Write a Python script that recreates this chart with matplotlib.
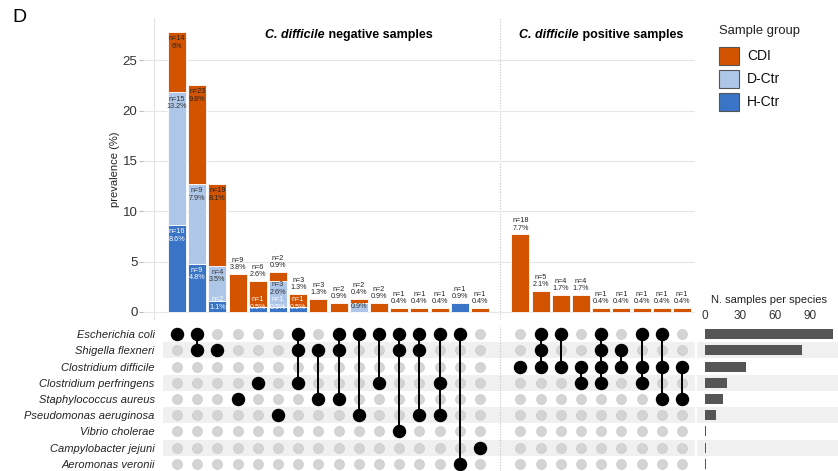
import matplotlib
matplotlib.use("Agg")
import matplotlib.pyplot as plt
from matplotlib.patches import Rectangle

plt.rcParams["font.family"] = ["Liberation Sans", "DejaVu Sans"]

# species in the intersection matrix, top to bottom
species = ["Escherichia coli", "Shigella flexneri", "Clostridium difficile",
           "Clostridium perfringens", "Staphylococcus aureus",
           "Pseudomonas aeruginosa", "Vibrio cholerae", "Campylobacter jejuni",
           "Aeromonas veronii"]
samples_per_species = [110, 83, 35, 19, 15, 9, 1, 1, 1]

# species combinations (indices into species)
neg_sets = [[0], [0, 1], [1], [4], [3], [5], [0, 1, 3], [1, 4], [0, 1, 4],
            [0, 5], [0, 3], [0, 1, 6], [0, 1, 5], [0, 3, 5], [0, 8], [7]]
pos_sets = [[2], [0, 1, 2], [0, 2], [2, 3], [0, 1, 2, 3], [1, 2], [0, 2, 3],
            [0, 2, 4], [2, 4]]

# prevalence (%) and counts per sample group, C. difficile negative samples
neg_hctr_pct = [8.6, 4.8, 1.1, 0, 0.5, 0.5, 0.5, 0, 0, 0, 0, 0, 0, 0, 0.9, 0]
neg_hctr_n = [16, 9, 2, 0, 1, 1, 1, 0, 0, 0, 0, 0, 0, 0, 1, 0]
neg_dctr_pct = [13.2, 7.9, 3.5, 0, 0, 2.6, 0, 0, 0, 0.9, 0, 0, 0, 0, 0, 0]
neg_dctr_n = [15, 9, 4, 0, 0, 3, 0, 0, 0, 1, 0, 0, 0, 0, 0, 0]
neg_cdi_pct = [6, 9.8, 8.1, 3.8, 2.6, 0.9, 1.3, 1.3, 0.9, 0.4, 0.9, 0.4, 0.4, 0.4, 0, 0.4]
neg_cdi_n = [14, 23, 19, 9, 6, 2, 3, 3, 2, 2, 2, 1, 1, 1, 0, 1]

# C. difficile positive samples (CDI only)
pos_cdi_pct = [7.7, 2.1, 1.7, 1.7, 0.4, 0.4, 0.4, 0.4, 0.4]
pos_cdi_n = [18, 5, 4, 4, 1, 1, 1, 1, 1]

groups = ["CDI", "D-Ctr", "H-Ctr"]
colors = {"CDI": "#d35400", "D-Ctr": "#aec6e8", "H-Ctr": "#3a74c6"}
text_colors = {"CDI": "#222222", "D-Ctr": "#333333", "H-Ctr": "white"}

n_neg = len(neg_sets)
gap = 1
pos_x = [n_neg + gap + i for i in range(len(pos_sets))]
neg_x = list(range(n_neg))
all_x = neg_x + pos_x
all_sets = neg_sets + pos_sets
divider = n_neg

# stacks bottom -> top: H-Ctr, D-Ctr, CDI
stacks = []
for i in range(n_neg):
    stacks.append([("H-Ctr", neg_hctr_pct[i], neg_hctr_n[i]),
                   ("D-Ctr", neg_dctr_pct[i], neg_dctr_n[i]),
                   ("CDI", neg_cdi_pct[i], neg_cdi_n[i])])
for i in range(len(pos_sets)):
    stacks.append([("H-Ctr", 0, 0), ("D-Ctr", 0, 0),
                   ("CDI", pos_cdi_pct[i], pos_cdi_n[i])])

W, H = 838, 471
fig = plt.figure(figsize=(W / 100, H / 100), dpi=100)


def px_box(x0, y0, x1, y1):
    return [x0 / W, 1 - y1 / H, (x1 - x0) / W, (y1 - y0) / H]


x_px0, x_step = 177, 20.2
xr = (695 - x_px0) / x_step

# ---- stacked prevalence bars ----
ax = fig.add_axes(px_box(143, 18, 695, 320))
ax.set_xlim((143 - x_px0) / x_step, xr)
ax.set_ylim(-0.8, 29.2)
for s in ax.spines.values():
    s.set_visible(False)
ax.set_yticks([0, 5, 10, 15, 20, 25])
ax.tick_params(axis="y", length=3, color="#bbbbbb", labelsize=9.5,
               labelcolor="#333333", pad=1)
ax.set_xticks([])
ax.grid(axis="y", color="#e6e6e6", lw=0.8)
ax.set_axisbelow(True)
ax.axvline((154 - x_px0) / x_step, color="#e3e3e3", lw=0.8, zorder=0)
ax.axvline(divider, color="#c4c4c4", lw=0.8, ls=(0, (1, 1.5)), zorder=0)
ax.set_ylabel("prevalence (%)", fontsize=8, color="#222222", labelpad=2)

bw = 0.9
fs = 5.2
two_lines = 1.55  # height of a two-line label in % units
for x, stack in zip(all_x, stacks):
    segs = [s for s in stack if s[1] > 0]
    total = sum(s[1] for s in segs)
    bottom = 0
    for k, (g, v, n) in enumerate(segs):
        ax.bar(x, v, bottom=bottom, width=bw, color=colors[g],
               edgecolor="white", linewidth=0.6)
        top = bottom + v
        is_top = k == len(segs) - 1
        if is_top and (len(segs) == 1 or v < 5):
            ax.text(x, top + 0.25, f"n={n}\n{v:g}%", ha="center",
                    va="bottom", fontsize=fs, color="#222222",
                    linespacing=1.1)
        else:
            pad = 0.3 if v >= 3 else 0.05
            y = max(top - pad, two_lines)
            if y > total:
                # no room for the count line inside the stack
                ax.text(x, max(top - pad, two_lines / 2), f"{v:g}%",
                        ha="center", va="top", fontsize=fs,
                        color=text_colors[g])
            else:
                ax.text(x, y, f"n={n}\n{v:g}%", ha="center", va="top",
                        fontsize=fs, color=text_colors[g], linespacing=1.1)
        bottom = top

t1 = ax.text((265 - x_px0) / x_step, 27.5, "C. difficile", fontsize=9,
             fontweight="bold", fontstyle="italic", va="center", ha="left")
ax.annotate(" negative samples", xy=(1, 0.5), xycoords=t1, va="center",
            ha="left", fontsize=9, fontweight="bold")
t2 = ax.text((519 - x_px0) / x_step, 27.5, "C. difficile", fontsize=9,
             fontweight="bold", fontstyle="italic", va="center", ha="left")
ax.annotate(" positive samples", xy=(1, 0.5), xycoords=t2, va="center",
            ha="left", fontsize=9, fontweight="bold")

# ---- intersection matrix ----
mx = fig.add_axes(px_box(163, 326, 695, 471))
mx.set_xlim((163 - x_px0) / x_step, xr)
mx.set_ylim(len(species) - 0.56, -0.5)
for s in mx.spines.values():
    s.set_visible(False)
mx.set_xticks([])
mx.set_yticks(range(len(species)))
mx.set_yticklabels(species, fontsize=8, fontstyle="italic", color="#222222")
mx.tick_params(axis="y", length=0, pad=6)
for r in range(1, len(species), 2):
    mx.axhspan(r - 0.5, r + 0.5, color="#f0f0f0", lw=0, zorder=0)
mx.axvline(divider, color="#c4c4c4", lw=0.8, ls=(0, (1, 1.5)), zorder=0)

for x in all_x:
    mx.scatter([x] * len(species), range(len(species)), s=52,
               color="#d4d4d4", edgecolor="#c4c4c4", linewidth=0.4, zorder=2)
for x, members in zip(all_x, all_sets):
    if len(members) > 1:
        mx.plot([x, x], [min(members), max(members)], color="black",
                lw=1.4, zorder=3)
    mx.scatter([x] * len(members), members, s=75, color="black", zorder=4)

# ---- samples per species ----
bx = fig.add_axes(px_box(697, 326, 838, 471))
bx.set_ylim(len(species) - 0.56, -0.5)
bx.set_xlim(-8 / 1.167, (838 - 705) / 1.167)
for s in bx.spines.values():
    s.set_visible(False)
for r in range(1, len(species), 2):
    bx.axhspan(r - 0.5, r + 0.5, color="#f0f0f0", lw=0, zorder=0)
bx.barh(range(len(species)), samples_per_species, height=0.62,
        color="#555555", zorder=2)
bx.set_yticks([])
bx.xaxis.tick_top()
bx.set_xticks([0, 30, 60, 90])
bx.tick_params(axis="x", length=0, labelsize=8.5, labelcolor="#333333", pad=3)
fig.text(711 / W, 1 - 300 / H, "N. samples per species", fontsize=8,
         color="#222222", va="center", ha="left")

# ---- legend ----
fig.text(719 / W, 1 - 31 / H, "Sample group", fontsize=9.4, color="#222222",
         va="center", ha="left")
for i, g in enumerate(groups):
    y0 = 47 + i * 23
    fig.add_artist(Rectangle((719 / W, 1 - (y0 + 18) / H), 20 / W, 18 / H,
                             transform=fig.transFigure, facecolor=colors[g],
                             edgecolor="#555555", lw=0.8))
    fig.text(747 / W, 1 - (y0 + 9) / H, g, fontsize=10, color="#111111",
             va="center", ha="left")

fig.text(12 / W, 1 - 17 / H, "D", fontsize=14, va="center", ha="left")

fig.savefig("out.png", dpi=100)
